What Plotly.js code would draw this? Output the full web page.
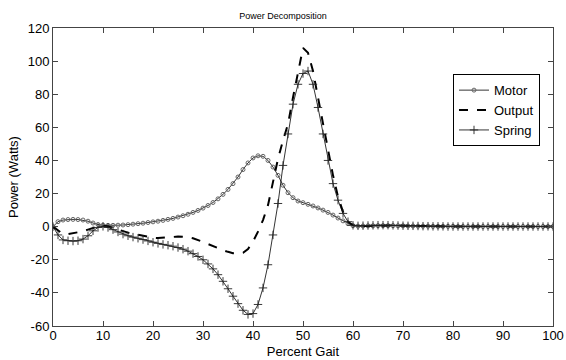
<!DOCTYPE html>
<html><head><meta charset="utf-8">
<script src="https://cdn.plot.ly/plotly-3.0.1.min.js"></script>
<style>html,body{margin:0;padding:0;background:#fff}#chart{width:566px;height:360px}</style>
</head><body><div id="chart"></div>
<script>
const percentGait = Array.from({length: 101}, (_, i) => i);
const motor = [
 0, 3, 4, 4.3, 4.4, 4.3, 4.0, 3.3, 2.2, 1.3,
 0.9, 0.8, 0.8, 0.9, 1.0, 1.2, 1.5, 1.8, 2.1, 2.5,
 2.9, 3.3, 3.8, 4.4, 5.0, 5.8, 6.6, 7.5, 8.6, 9.8,
 11.2, 12.8, 14.6, 16.8, 19.5, 22.5, 26, 30, 34.5, 38.5,
 41.5, 42.8, 42.5, 40, 36, 31, 25, 20.5, 17.5, 15.5,
 14.5, 13.5, 12.5, 11.3, 10, 8.6, 7, 5.2, 3.5, 1.8,
 0.6, 0.3, 0.4, 0.5, 0.5, 0.6, 0.6, 0.6, 0.6, 0.5,
 0.5, 0.4, 0.4, 0.3, 0.3, 0.3, 0.2, 0.2, 0.2, 0.2,
 0.2, 0.1, 0.1, 0.1, 0.1, 0.1, 0.1, 0.1, 0.1, 0.1,
 0.1, 0.1, 0.1, 0.1, 0.1, 0.1, 0.1, 0.1, 0.1, 0.1, 0.1
];
const output = [
 0, -2.5, -4.5, -4.5, -4, -3.5, -2.8, -1.8, -0.8, 0.2,
 0.6, 0.2, -0.8, -1.8, -2.8, -3.6, -4.3, -5.0, -5.7, -6.3,
 -6.7, -6.9, -6.8, -6.5, -6.2, -6.0, -6.0, -6.3, -7.0, -8.0,
 -9.2, -10.5, -11.8, -13, -14.2, -15.2, -16, -16.3, -15.8, -13.5,
 -9, -3, 4, 13, 27, 41, 52, 62, 78, 94,
 108, 105, 94, 78, 62, 47, 31, 18, 9, 3,
 0.8, 0.4, 0.5, 0.6, 0.7, 0.8, 0.8, 0.8, 0.7, 0.7,
 0.6, 0.5, 0.4, 0.4, 0.3, 0.3, 0.2, 0.2, 0.2, 0.1,
 0.1, 0.1, 0.1, 0.1, 0.1, 0.1, 0.1, 0.1, 0.1, 0.1,
 0.1, 0.1, 0.1, 0.1, 0.1, 0.1, 0.1, 0.1, 0.1, 0.1, 0.1
];
const spring = [
 0, -5, -8, -8.5, -8.7, -8.5, -7.5, -5.5, -2.5, -0.5,
 0.2, -0.5, -1.8, -3.2, -4.5, -5.5, -6.3, -7.0, -7.8, -8.6,
 -9.4, -10.1, -10.7, -11.2, -11.8, -12.6, -13.6, -14.8, -16.3, -18,
 -20, -22.5, -25.5, -29, -33, -37.5, -42, -46.5, -50.5, -53,
 -52.5, -47, -37, -23, -5, 14, 37, 56, 74, 86,
 92.5, 94, 86, 72, 56, 40, 26, 16, 8, 3,
 0.8, 0.5, 0.6, 0.7, 0.8, 0.9, 0.9, 0.9, 0.8, 0.7,
 0.6, 0.5, 0.5, 0.4, 0.3, 0.3, 0.2, 0.2, 0.2, 0.1,
 0.1, 0.1, 0.1, 0.1, 0.1, 0.1, 0.1, 0.1, 0.1, 0.1,
 0.1, 0.1, 0.1, 0.1, 0.1, 0.1, 0.1, 0.1, 0.1, 0.1, 0.1
];
const xTicks = [0,10,20,30,40,50,60,70,80,90,100];
const yTicks = [-60,-40,-20,0,20,40,60,80,100,120];

const font = "Liberation Sans, Arial, sans-serif";
const traces = [
 {x: percentGait, y: motor, name: 'Motor', type: 'scatter', mode: 'lines+markers',
  line: {color: '#000', width: 0.8},
  marker: {symbol: 'circle-open', size: 4, color: '#666', line: {width: 1, color: '#666'}}},
 {x: percentGait, y: output, name: 'Output', type: 'scatter', mode: 'lines',
  line: {color: '#000', width: 2, dash: 'dash'}},
 {x: percentGait, y: spring, name: 'Spring', type: 'scatter', mode: 'lines+markers',
  line: {color: '#000', width: 0.8},
  marker: {symbol: 'cross-thin-open', size: 6, color: '#222', line: {width: 0.9, color: '#222'}}}
];
const axisCommon = {
  showgrid: false, zeroline: false, showline: true, linecolor: '#444', linewidth: 1,
  mirror: 'ticks', ticks: 'inside', ticklen: 5, tickcolor: '#444', tickwidth: 1,
  tickfont: {family: font, size: 13, color: '#000'}
};
const layout = {
  width: 566, height: 360,
  margin: {l: 53, r: 13, t: 28, b: 34},
  paper_bgcolor: '#fff', plot_bgcolor: '#fff',
  showlegend: true,
  title: {text: 'Power Decomposition', font: {family: font, size: 9, color: '#000'}, x: 0.5, xanchor: 'center', y: 0.955, yanchor: 'middle'},
  xaxis: Object.assign({}, axisCommon, {range: [0, 100], tickvals: xTicks, ticktext: xTicks.map(String),
    ticklabelstandoff: -3,
    title: {text: 'Percent Gait', font: {family: font, size: 13, color: '#000'}, standoff: 0}}),
  yaxis: Object.assign({}, axisCommon, {range: [-60, 120], tickvals: yTicks, ticktext: yTicks.map(String),
    title: {text: 'Power (Watts)', font: {family: font, size: 13, color: '#000'}, standoff: 6}}),
  legend: {x: 0.8, y: 0.845, xanchor: 'left', yanchor: 'top', bgcolor: '#fff', bordercolor: '#000', borderwidth: 1,
    font: {family: font, size: 13, color: '#000'}, tracegroupgap: 0, itemwidth: 30}
};
Plotly.newPlot('chart', traces, layout, {staticPlot: true, displayModeBar: false}).then(() => {
  const t = document.querySelector('.g-xtitle text');
  if (t) { const y = parseFloat(t.getAttribute('y')); t.setAttribute('y', String(Math.min(y + 1, 354))); }
});
</script></body></html>
